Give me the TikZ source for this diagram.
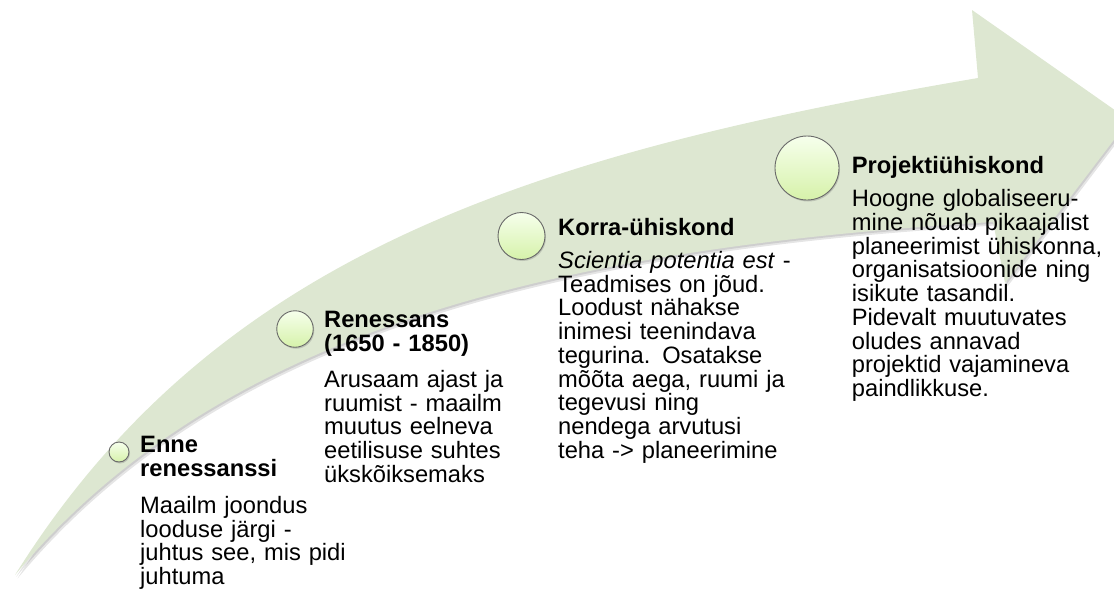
\documentclass[tikz,border=0pt]{standalone}
\usepackage{fontspec}
\setmainfont{Liberation Sans}
\usetikzlibrary{shadows}
\definecolor{arrowgreen}{RGB}{221,231,209}
\definecolor{dottop}{RGB}{246,255,236}
\definecolor{dotbottom}{RGB}{214,242,170}
\definecolor{dotborder}{RGB}{105,105,105}
\begin{document}
\begin{tikzpicture}[x=1pt,y=-1pt,
  dot/.style={circle, draw=dotborder, line width=0.9pt, top color=dottop, bottom color=dotbottom, inner sep=0pt,
    drop shadow={shadow xshift=1pt, shadow yshift=-1.5pt, opacity=0.35}},
  head/.style={anchor=base west, inner sep=0pt, text width=300pt, align=left, font=\fontsize{23.7}{24}\selectfont\bfseries},
  body/.style={anchor=base west, inner sep=0pt, text width=300pt, align=left, font=\fontsize{23.7}{23.75}\selectfont},
]
\useasboundingbox (0,0) rectangle (1114,592);
\begin{scope}
\clip (0,0) rectangle (1114,592);
\fill[black, opacity=0.10, shift={(2.5,3.5)}] (15,575) .. controls (215,255) and (528,154.5) .. (978,78) -- (972,10) -- (1129,120) -- (1005,283) -- (993,222) .. controls (543,249) and (215,335) .. cycle;
\fill[black, opacity=0.10, shift={(1.2,1.8)}] (15,575) .. controls (215,255) and (528,154.5) .. (978,78) -- (972,10) -- (1129,120) -- (1005,283) -- (993,222) .. controls (543,249) and (215,335) .. cycle;
\fill[arrowgreen] (15,575) .. controls (215,255) and (528,154.5) .. (978,78) -- (972,10) -- (1129,120) -- (1005,283) -- (993,222) .. controls (543,249) and (215,335) .. cycle;
\end{scope}

\node[dot, minimum size=20pt] (c1) at (119,452) {};
\node[dot, minimum size=36.5pt] (c2) at (295,329) {};
\node[dot, minimum size=47pt] (c3) at (521.5,236) {};
\node[dot, minimum size=64pt] (c4) at (807,168) {};

\node[head] (h1) at (140,452.7) {Enne\\renessanssi};
\node[body] (b1) at (140,513.3) {Maailm joondus\\looduse järgi -\\juhtus see, mis pidi\\juhtuma};

\node[head] (h2) at (324,327.3) {Renessans\\(1650 - 1850)};
\node[body] (b2) at (324,387.3) {Arusaam ajast ja\\ruumist - maailm\\muutus eelneva\\eetilisuse suhtes\\ükskõiksemaks};

\node[head] (h3) at (558,235) {Korra-ühiskond};
\node[body] (b3) at (558,268.3) {\textit{Scientia potentia est} -\\Teadmises on jõud.\\Loodust nähakse\\inimesi teenindava\\tegurina. Osatakse\\mõõta aega, ruumi ja\\tegevusi ning\\nendega arvutusi\\teha -> planeerimine};

\node[head] (h4) at (851.7,173.3) {Projektiühiskond};
\node[body] (b4) at (851.7,206.7) {Hoogne globaliseeru-\\mine nõuab pikaajalist\\planeerimist ühiskonna,\\organisatsioonide ning\\isikute tasandil.\\Pidevalt muutuvates\\oludes annavad\\projektid vajamineva\\paindlikkuse.};
\end{tikzpicture}
\end{document}
